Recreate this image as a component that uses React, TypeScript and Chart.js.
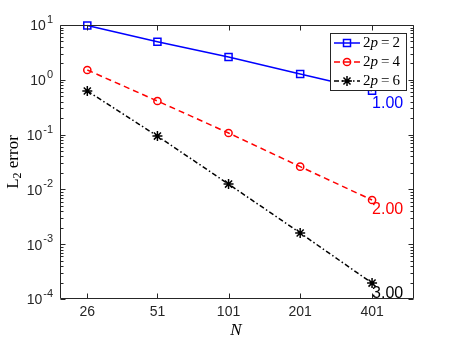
import React, { useEffect, useRef } from 'react';
import { Chart, registerables } from 'chart.js';

Chart.register(...registerables);

const nValues = [26, 51, 101, 201, 401];
const err2 = [9.8, 4.95, 2.6, 1.28, 0.63];
const err4 = [1.51, 0.41, 0.107, 0.026, 0.0064];
const err6 = [0.625, 0.094, 0.0125, 0.0016, 0.000195];
const seriesLabels = ['2p = 2', '2p = 4', '2p = 6'];
const slopeLabels = ['1.00', '2.00', '3.00'];
const xTicks = [26, 51, 101, 201, 401];
const yTicks = [1e-4, 1e-3, 1e-2, 1e-1, 1, 10];
const xTitle = 'N';
const yTitle = 'L₂ error';

const COLORS = ['#0000ff', '#ff0000', '#000000'];
const DASHES: number[][] = [[], [6, 4], [5, 2.5, 1.5, 2.5]];
const STYLES = ['rect', 'circle', 'star'];
const AXIS = '#262626';
const SANS = '"Liberation Sans", Arial, sans-serif';
const SERIF = '"Liberation Serif", "Times New Roman", serif';

function drawMarker(ctx: CanvasRenderingContext2D, style: string, x: number, y: number, color: string) {
  ctx.save();
  ctx.setLineDash([]);
  ctx.strokeStyle = color;
  ctx.lineWidth = 1.5;
  ctx.beginPath();
  if (style === 'rect') {
    ctx.rect(x - 3.5, y - 3.5, 7, 7);
  } else if (style === 'circle') {
    ctx.arc(x, y, 3.6, 0, Math.PI * 2);
  } else {
    const r = 5;
    for (let k = 0; k < 4; k++) {
      const a = (k * Math.PI) / 4;
      ctx.moveTo(x - r * Math.cos(a), y - r * Math.sin(a));
      ctx.lineTo(x + r * Math.cos(a), y + r * Math.sin(a));
    }
  }
  ctx.stroke();
  ctx.restore();
}

const framePlugin = {
  id: 'matlabFrame',
  afterDatasetsDraw(chart: any) {
    const ctx: CanvasRenderingContext2D = chart.ctx;
    const { left, right, top, bottom } = chart.chartArea;
    const xs = chart.scales.x;
    const ys = chart.scales.y;
    ctx.save();
    ctx.strokeStyle = AXIS;
    ctx.lineWidth = 1;
    ctx.setLineDash([]);
    const L = Math.round(left) + 0.5;
    const R = Math.round(right) - 0.5;
    const T = Math.round(top) + 0.5;
    const B = Math.round(bottom) - 0.5;
    ctx.beginPath();
    ctx.moveTo(L, T);
    ctx.lineTo(R, T);
    ctx.lineTo(R, B);
    ctx.lineTo(L, B);
    ctx.closePath();
    // x ticks
    xTicks.forEach((v) => {
      const px = Math.round(xs.getPixelForValue(v)) + 0.5;
      ctx.moveTo(px, B);
      ctx.lineTo(px, B - 5);
      ctx.moveTo(px, T);
      ctx.lineTo(px, T + 5);
    });
    // y ticks major + minor
    for (let d = -4; d <= 1; d++) {
      const base = Math.pow(10, d);
      for (let m = 1; m <= 9; m++) {
        const v = base * m;
        if (v > 10.0001) break;
        const py = Math.round(ys.getPixelForValue(v)) + 0.5;
        const len = m === 1 ? 5 : 3;
        ctx.moveTo(L, py);
        ctx.lineTo(L + len, py);
        ctx.moveTo(R, py);
        ctx.lineTo(R - len, py);
      }
    }
    ctx.stroke();

    // y tick labels 10^k
    ctx.fillStyle = AXIS;
    ctx.textBaseline = 'middle';
    ctx.textAlign = 'left';
    yTicks.forEach((v) => {
      const py = ys.getPixelForValue(v);
      const e = String(Math.round(Math.log10(v)));
      ctx.font = '14px ' + SANS;
      const wb = ctx.measureText('10').width;
      ctx.font = '11px ' + SANS;
      const we = ctx.measureText(e).width;
      const xEnd = 53;
      const xb = xEnd - we - 1 - wb;
      ctx.font = '14px ' + SANS;
      ctx.fillText('10', xb, py + 1.5);
      ctx.font = '11px ' + SANS;
      ctx.fillText(e, xEnd - we, py - 5);
    });

    // slope labels
    ctx.font = '16px ' + SANS;
    const offs = [13, 10, 10];
    chart.data.datasets.forEach((ds: any, i: number) => {
      const last = ds.data[ds.data.length - 1];
      const px = xs.getPixelForValue(last.x);
      const py = ys.getPixelForValue(last.y);
      ctx.fillStyle = COLORS[i];
      ctx.fillText(slopeLabels[i], px, py + offs[i]);
    });

    // axis titles
    ctx.fillStyle = '#000';
    ctx.textAlign = 'center';
    ctx.font = 'italic 17px ' + SERIF;
    ctx.fillText(xTitle, 236, 331);

    ctx.save();
    ctx.translate(14, 162);
    ctx.rotate(-Math.PI / 2);
    const parts = [yTitle.slice(0, 1), '2', yTitle.slice(2)];
    const fonts = ['17px ' + SERIF, '12px ' + SERIF, '17px ' + SERIF];
    const dy = [0, 4, 0];
    let total = 0;
    const ws = parts.map((p, k) => {
      ctx.font = fonts[k];
      const w = ctx.measureText(p).width;
      total += w;
      return w;
    });
    let cx = -total / 2;
    ctx.textAlign = 'left';
    parts.forEach((p, k) => {
      ctx.font = fonts[k];
      ctx.fillText(p, cx, dy[k]);
      cx += ws[k];
    });
    ctx.restore();

    // legend
    const bx = 330.5, by = 33.5, bw = 76, bh = 57;
    ctx.fillStyle = '#fff';
    ctx.fillRect(bx, by, bw, bh);
    ctx.strokeStyle = AXIS;
    ctx.lineWidth = 1;
    ctx.strokeRect(bx, by, bw, bh);
    seriesLabels.forEach((lab, i) => {
      const y = 43 + i * 19;
      ctx.save();
      ctx.strokeStyle = COLORS[i];
      ctx.lineWidth = 1.5;
      ctx.setLineDash(DASHES[i]);
      ctx.beginPath();
      ctx.moveTo(334, y);
      ctx.lineTo(360, y);
      ctx.stroke();
      ctx.restore();
      drawMarker(ctx, STYLES[i], 347, y, COLORS[i]);
      // text "2p = k"
      ctx.fillStyle = '#000';
      ctx.textAlign = 'left';
      ctx.textBaseline = 'middle';
      let tx = 363;
      ctx.font = '15px ' + SERIF;
      ctx.fillText(lab[0], tx, y);
      tx += ctx.measureText(lab[0]).width;
      ctx.font = 'italic 15px ' + SERIF;
      ctx.fillText(lab[1], tx, y);
      tx += ctx.measureText(lab[1]).width + 3;
      ctx.font = '15px ' + SERIF;
      ctx.fillText('=', tx, y);
      tx += ctx.measureText('=').width + 3;
      ctx.fillText(lab.slice(5), tx, y);
    });
    ctx.restore();
  },
};

export default function App() {
  const ref = useRef<HTMLCanvasElement | null>(null);
  useEffect(() => {
    if (!ref.current) return;
    const mk = (vals: number[]) => nValues.map((n, i) => ({ x: n, y: vals[i] }));
    const all = [err2, err4, err6];
    const chart = new Chart(ref.current, {
      type: 'line',
      data: {
        datasets: all.map((vals, i) => ({
          label: seriesLabels[i],
          data: mk(vals),
          borderColor: COLORS[i],
          backgroundColor: 'rgba(0,0,0,0)',
          borderWidth: 1.5,
          borderDash: DASHES[i],
          pointStyle: STYLES[i] as any,
          pointRadius: i === 0 ? 5 : i === 1 ? 3.6 : 5,
          pointBorderWidth: 1.5,
          pointBorderColor: COLORS[i],
          pointBackgroundColor: 'rgba(0,0,0,0)',
          fill: false,
          tension: 0,
          clip: false as any,
        })),
      },
      options: {
        responsive: false,
        animation: false,
        layout: { padding: { left: 0, top: 25, right: 44, bottom: 0 } },
        plugins: { legend: { display: false }, tooltip: { enabled: false } },
        scales: {
          x: {
            type: 'logarithmic',
            min: 20,
            max: 600,
            grid: { display: false, drawTicks: false },
            border: { display: false },
            afterBuildTicks: (s: any) => {
              s.ticks = xTicks.map((v) => ({ value: v }));
            },
            afterFit: (s: any) => {
              s.height = 44;
            },
            ticks: {
              autoSkip: false,
              maxRotation: 0,
              padding: 5,
              color: AXIS,
              font: { family: SANS, size: 14 },
              callback: (v: any) => String(v),
            },
          },
          y: {
            type: 'logarithmic',
            min: 1e-4,
            max: 10,
            grid: { display: false, drawTicks: false },
            border: { display: false },
            afterFit: (s: any) => {
              s.width = 60;
            },
            ticks: { display: false },
          },
        },
      },
      plugins: [framePlugin],
    });
    return () => chart.destroy();
  }, []);
  return (
    <div style={{ position: 'fixed', left: 0, top: 0, width: 458, height: 343, background: '#fff' }}>
      <canvas ref={ref} width={458} height={343} />
    </div>
  );
}
